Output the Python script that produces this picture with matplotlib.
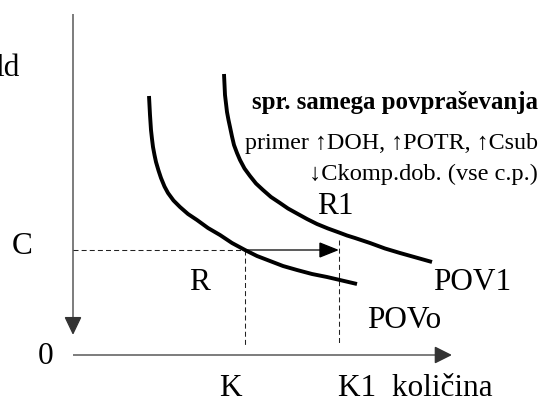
import matplotlib
matplotlib.use("Agg")
import matplotlib.pyplot as plt
from matplotlib.patches import FancyArrowPatch

plt.rcParams['font.family'] = ['Liberation Serif', 'DejaVu Serif']

# ---- data (units: quantity to the right, price upward; origin at axes crossing)
pov0_q = [76, 77, 78, 79, 80, 81.5, 83, 85.5, 88, 91.5, 95, 100.5, 107, 115, 124,
          135, 147, 159, 172, 184, 197, 210, 224, 239, 254, 269, 284]
pov0_p = [259, 240, 225, 216, 208, 200, 193, 184.5, 177, 168.5, 162, 154.5, 148, 141, 135,
          127, 120, 112, 105, 99, 94, 89, 85, 81, 78, 74.5, 71]

pov1_q = [151, 152, 154, 155.5, 157, 159, 161, 164, 167, 171.5, 177, 183, 190, 198, 207,
          215, 224, 234, 244, 255, 266, 274, 282, 297, 312, 327, 343, 359]
pov1_p = [281, 260, 243, 235, 228, 218.5, 210, 202, 195, 186.5, 179, 171.5, 165, 158, 152,
          146.5, 141.5, 136, 131, 126.5, 122.5, 119.5, 117, 112, 106.5, 102, 97.5, 93]

K = 172
K1 = 266
C = 105
K1_top = 115
q_max = 379
p_max = 341
p_arrow_tip = 20
guide_bottom = 10

curve_labels = ["R", "R1", "POVo", "POV1"]
axis_labels = ["C", "0", "K", "K1  količina", "ld"]
note_lines = ["spr. samega povpraševanja",
              "primer \u2191DOH, \u2191POTR, \u2191Csub",
              "\u2193Ckomp.dob. (vse c.p.)"]

fig = plt.figure(figsize=(5.43, 4.03), dpi=100)
ax = fig.add_axes([0, 0, 1, 1])
ax.set_xlim(-73, 470)
ax.set_ylim(-48, 355)
ax.axis('off')

axis_col = '#333333'

def arrow(p0, p1, lw, col, hl, hw):
    a = FancyArrowPatch(p0, p1, arrowstyle=f'-|>,head_length={hl},head_width={hw}',
                        mutation_scale=10, lw=lw, color=col, shrinkA=0, shrinkB=0,
                        joinstyle='miter', capstyle='butt')
    ax.add_patch(a)

# vertical axis (arrow pointing down)
arrow((0, p_max), (0, p_arrow_tip), 0.9, axis_col, 1.15, 0.55)
# horizontal axis
arrow((0, 0), (q_max, 0), 0.9, axis_col, 1.1, 0.55)

# dashed guides
dash = (0, (4.8, 3))
ax.plot([0, K], [C, C], color='#222222', lw=0.75, linestyle=dash)
ax.plot([K, K], [C, guide_bottom], color='#222222', lw=0.75, linestyle=dash)
ax.plot([K1, K1], [K1_top, guide_bottom], color='#222222', lw=0.75, linestyle=dash)

# solid shift arrow
arrow((K, C), (K1, C), 0.9, 'black', 1.25, 0.5)

# demand curves
ax.plot(pov0_q, pov0_p, color='black', lw=2.8, solid_joinstyle='round', solid_capstyle='butt')
ax.plot(pov1_q, pov1_p, color='black', lw=2.8, solid_joinstyle='round', solid_capstyle='butt')

big = 22.5
ax.text(126, 72, curve_labels[0], fontsize=big, ha='center', va='center')
ax.text(262, 149, curve_labels[1], fontsize=big, ha='center', va='center')
ax.text(331, 34, curve_labels[2], fontsize=big, ha='center', va='center')
ax.text(399, 73, curve_labels[3], fontsize=big, ha='center', va='center')

ax.text(-51, 109, axis_labels[0], fontsize=big, ha='center', va='center')
ax.text(-27, -2, axis_labels[1], fontsize=big, ha='center', va='center')
ax.text(157, -33, axis_labels[2], fontsize=big, ha='center', va='center')
ax.text(265, -33, axis_labels[3], fontsize=big, ha='left', va='center')
ax.text(-53, 287, axis_labels[4], fontsize=big, ha='right', va='center')

ax.text(465, 252, note_lines[0], fontsize=17.9, fontweight='bold', ha='right', va='center')
ax.text(465, 212, note_lines[1], fontsize=17.3, ha='right', va='center')
ax.text(465, 181, note_lines[2], fontsize=17.6, ha='right', va='center')

fig.savefig('out.png', dpi=100)
